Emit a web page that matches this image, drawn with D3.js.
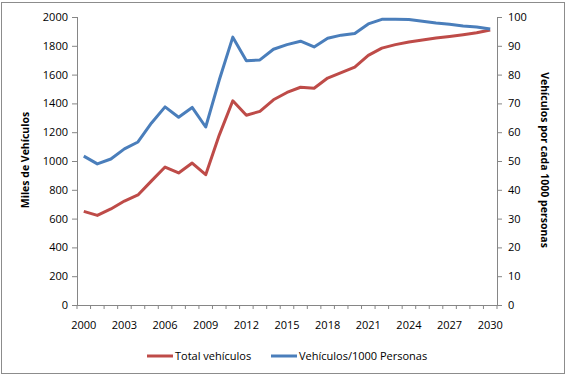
<!DOCTYPE html>
<html>
<head>
<meta charset="utf-8">
<script src="https://cdn.jsdelivr.net/npm/d3@7"></script>
<style>
body { margin: 0; background: #fff; }
text { font-family: "Open Sans", "Noto Sans", sans-serif; fill: #000; }
.axis path, .axis line { stroke: #868686; }
</style>
</head>
<body>
<div id="chart"></div>
<script>
// data
var years = d3.range(2000, 2031);
var totalVehiculos = [650, 622, 667, 722, 764, 862, 958, 917, 986, 905,
    1180, 1418, 1318, 1345, 1425, 1476, 1512, 1505, 1576, 1614,
    1652, 1734, 1784, 1808, 1826, 1840, 1854, 1864, 1876, 1890, 1910];
var vehiculosPor1000 = [51.7, 49.0, 50.7, 54.2, 56.6, 63.2, 68.8, 65.2, 68.6, 61.8,
    78.1, 93.0, 84.8, 85.1, 88.8, 90.4, 91.6, 89.6, 92.6, 93.7,
    94.3, 97.6, 99.2, 99.2, 99.1, 98.5, 97.9, 97.5, 96.9, 96.5, 95.8];
var leftTicks = [0, 200, 400, 600, 800, 1000, 1200, 1400, 1600, 1800, 2000];
var rightTicks = [0, 10, 20, 30, 40, 50, 60, 70, 80, 90, 100];
var yearLabels = [2000, 2003, 2006, 2009, 2012, 2015, 2018, 2021, 2024, 2027, 2030];

var W = 567, H = 377;
var margin = {top: 17, right: 70, bottom: 72, left: 77};
var width = W - margin.left - margin.right,
    height = H - margin.top - margin.bottom;
var fs = "11px";

var svg = d3.select("#chart").append("svg")
    .attr("width", W)
    .attr("height", H);

// outer frame
svg.append("rect")
    .attr("x", 1.5).attr("y", 2.5)
    .attr("width", 563).attr("height", 371)
    .attr("fill", "none")
    .attr("stroke", "#8c8c8c");

var g = svg.append("g")
    .attr("transform", "translate(" + margin.left + "," + margin.top + ")");

var x = d3.scaleBand().domain(years).range([0, width]).padding(0);
var xc = function(d) { return x(d) + x.bandwidth() / 2; };
var yL = d3.scaleLinear().domain([0, 2000]).range([height, 0]);
var yR = d3.scaleLinear().domain([0, 100]).range([height, 0]);

// left axis
var axL = g.append("g").attr("class", "axis")
    .call(d3.axisLeft(yL).tickValues(leftTicks).tickFormat(d3.format("d"))
        .tickSize(5).tickPadding(4));
axL.select(".domain").attr("d", "M0.5," + height + "V0");
axL.selectAll("text").style("font-size", fs);

// right axis
var axR = g.append("g").attr("class", "axis")
    .attr("transform", "translate(" + width + ",0)")
    .call(d3.axisRight(yR).tickValues(rightTicks).tickSize(5).tickPadding(6));
axR.select(".domain").attr("d", "M0.5," + height + "V0");
axR.selectAll("text").style("font-size", fs);

// bottom axis: tick marks on band edges, labels every 3 years
var axB = g.append("g").attr("class", "axis")
    .attr("transform", "translate(0," + height + ")");
axB.append("line")
    .attr("x1", 0).attr("x2", width)
    .attr("y1", 0.5).attr("y2", 0.5);
axB.selectAll(".tk")
    .data(years.concat([2031]))
    .enter().append("line")
    .attr("class", "tk")
    .attr("x1", function(d) { return d === 2031 ? width : x(d); })
    .attr("x2", function(d) { return d === 2031 ? width : x(d); })
    .attr("y1", 0).attr("y2", 4);
axB.selectAll(".lb")
    .data(yearLabels)
    .enter().append("text")
    .attr("class", "lb")
    .attr("x", xc)
    .attr("y", 24)
    .attr("text-anchor", "middle")
    .style("font-size", fs)
    .text(function(d) { return d; });

// lines
var lineL = d3.line()
    .x(function(d, i) { return xc(years[i]); })
    .y(function(d) { return yL(d); });
var lineR = d3.line()
    .x(function(d, i) { return xc(years[i]); })
    .y(function(d) { return yR(d); });

g.append("path")
    .datum(totalVehiculos)
    .attr("d", lineL)
    .attr("fill", "none")
    .attr("stroke", "#BE4B48")
    .attr("stroke-width", 3)
    .attr("stroke-linejoin", "round");

g.append("path")
    .datum(vehiculosPor1000)
    .attr("d", lineR)
    .attr("fill", "none")
    .attr("stroke", "#4A7EBB")
    .attr("stroke-width", 3)
    .attr("stroke-linejoin", "round");

// axis titles
svg.append("text")
    .attr("transform", "translate(29,160) rotate(-90)")
    .attr("text-anchor", "middle")
    .style("font-size", "10.5px")
    .style("font-weight", "bold")
    .text("Miles de Vehículos");

svg.append("text")
    .attr("transform", "translate(541,160) rotate(90)")
    .attr("text-anchor", "middle")
    .style("font-size", "10.5px")
    .style("font-weight", "bold")
    .text("Vehículos por cada 1000 personas");

// legend
var legend = [
    {name: "Total vehículos", color: "#BE4B48", x: 147},
    {name: "Vehículos/1000 Personas", color: "#4A7EBB", x: 271}
];
var lg = svg.selectAll(".legend")
    .data(legend)
    .enter().append("g")
    .attr("class", "legend")
    .attr("transform", function(d) { return "translate(" + d.x + ",356)"; });
lg.append("line")
    .attr("x1", 0).attr("x2", 26)
    .attr("stroke", function(d) { return d.color; })
    .attr("stroke-width", 3);
lg.append("text")
    .attr("x", 28)
    .attr("dy", "0.35em")
    .style("font-size", fs)
    .text(function(d) { return d.name; });
</script>
</body>
</html>
